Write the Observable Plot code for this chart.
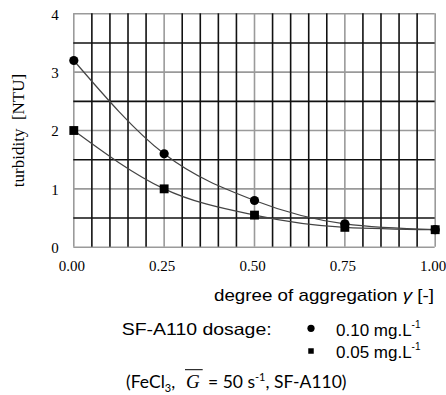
<!DOCTYPE html>
<html><head><meta charset="utf-8">
<script src="https://cdn.jsdelivr.net/npm/d3@7"></script>
<script src="https://cdn.jsdelivr.net/npm/@observablehq/plot@0.6"></script>
<style>
html,body{margin:0;padding:0;background:#fff;}
#chart{width:446px;height:395px;position:relative;overflow:hidden;background:#fff;}
#chart svg{display:block;}
#chart svg.mainplot text{font-family:"Liberation Serif","Times New Roman",serif !important;}
</style></head><body><div id="chart"></div>
<script>
// ---- data ----
const gamma = [0, 0.25, 0.5, 0.75, 1.0];
const turbidity010 = [3.2, 1.6, 0.8, 0.4, 0.3];
const turbidity005 = [2.0, 1.0, 0.55, 0.34, 0.3];
const seriesLabels = ["0.10 mg.L", "0.05 mg.L"];
const xTicks = [0, 0.25, 0.5, 0.75, 1];
const xMinorGrid = [0.05,0.1,0.15,0.2,0.3,0.35,0.4,0.45,0.55,0.6,0.65,0.7,0.8,0.85,0.9,0.95];
const yTicks = [0, 1, 2, 3, 4];
const yMinorGrid = [0.5, 1.5, 2.5, 3.5];
const yLabel = "turbidity\u00a0 [NTU]";
const xLabel = "degree of aggregation ";
const legendTitle = "SF-A110 dosage:";

const rows010 = gamma.map((g, i) => ({g, t: turbidity010[i]}));
const rows005 = gamma.map((g, i) => ({g, t: turbidity005[i]}));

const chart = document.getElementById("chart");
const serif = "'Liberation Serif', 'Times New Roman', serif";

const plot = Plot.plot({
  className: "mainplot",
  width: 446, height: 280,
  marginLeft: 73.3, marginRight: 11.3, marginTop: 13.3, marginBottom: 33.3,
  x: {domain: [0, 1]},
  y: {domain: [0, 4]},
  style: {fontFamily: serif, fontSize: "15px", color: "#000", background: "#fff", overflow: "visible"},
  marks: [
    Plot.ruleX(xTicks, {x: d => d, stroke: "#9a9a9a", strokeWidth: 1.6}),
    Plot.ruleY(yTicks, {y: d => d, stroke: "#9a9a9a", strokeWidth: 1.6}),
    Plot.ruleX(xMinorGrid, {x: d => d, stroke: "#111", strokeWidth: 1.6}),
    Plot.ruleY(yMinorGrid, {y: d => d, stroke: "#111", strokeWidth: 1.6}),
    Plot.line(rows010, {x: "g", y: "t", curve: "monotone-x", stroke: "#444", strokeWidth: 1.2}),
    Plot.line(rows005, {x: "g", y: "t", curve: "monotone-x", stroke: "#444", strokeWidth: 1.2}),
    Plot.dot(rows010, {x: "g", y: "t", r: 4.6, fill: "#000", stroke: "none", symbol: "circle"}),
    Plot.dot(rows005, {x: "g", y: "t", r: 5, fill: "#000", stroke: "none", symbol: "square"}),
    Plot.axisX({ticks: xTicks, tickFormat: d3.format(".2f"), tickSize: 0, tickPadding: 13, label: null, dx: -2, fontSize: 15, fontFamily: serif}),
    Plot.axisY({ticks: yTicks, tickFormat: d3.format("d"), tickSize: 0, tickPadding: 15, label: null, dy: 1, fontSize: 15, fontFamily: serif}),
    Plot.text([yLabel], {text: d => d, frameAnchor: "left", dx: -55, rotate: -90, textAnchor: "middle", lineAnchor: "middle", fontSize: 17, fontFamily: serif})
  ]
});
chart.appendChild(plot);

// ---- legend / labels below the plot ----
const leg = d3.create("svg").attr("width", 446).attr("height", 115)
  .style("font-family", "'Liberation Sans', Arial, sans-serif").style("fill", "#000");

const xl = leg.append("text").attr("x", 214).attr("y", 20.7).attr("font-size", 17)
  .attr("textLength", 220).attr("lengthAdjust", "spacingAndGlyphs");
xl.append("tspan").text(xLabel);
xl.append("tspan").attr("font-style", "italic").text("γ");
xl.append("tspan").text(" [-]");

leg.append("text").attr("x", 121.7).attr("y", 55).attr("font-size", 16.5)
  .attr("textLength", 150).attr("lengthAdjust", "spacingAndGlyphs").text(legendTitle);

const symCircle = d3.symbol(d3.symbolCircle, Math.PI * 3.6 * 3.6)();
const symSquare = d3.symbol(d3.symbolSquare, 5.5 * 5.5)();
const legendRows = [
  {label: seriesLabels[0], sym: symCircle, cy: 48.3, base: 56},
  {label: seriesLabels[1], sym: symSquare, cy: 71, base: 78.3}
];
legendRows.forEach(r => {
  leg.append("path").attr("d", r.sym).attr("transform", `translate(311,${r.cy})`).attr("fill", "#000");
  const t = leg.append("text").attr("x", 336).attr("y", r.base).attr("font-size", 17);
  t.append("tspan").text(r.label);
  t.append("tspan").attr("font-size", 10).attr("dy", -8).text("-1");
});

// caption
const cap = leg.append("text").attr("y", 107.7).attr("font-family", "Lato, 'Open Sans', sans-serif").attr("font-size", 17.5);
cap.append("tspan").attr("x", 126).text("(FeCl");
cap.append("tspan").attr("font-size", 11).attr("dy", 4).text("3");
cap.append("tspan").attr("dy", -4).text(",");
cap.append("tspan").attr("x", 186).attr("font-family", serif).attr("font-style", "italic").attr("font-size", 19).text("G");
cap.append("tspan").attr("x", 208).text("= 50 s");
cap.append("tspan").attr("font-size", 11).attr("dy", -7).text("-1");
cap.append("tspan").attr("dy", 7).text(", SF-A110)");
leg.append("line").attr("x1", 185).attr("x2", 202.7).attr("y1", 89.7).attr("y2", 89.7)
  .attr("stroke", "#000").attr("stroke-width", 1);

chart.appendChild(leg.node());
</script>
</body></html>
